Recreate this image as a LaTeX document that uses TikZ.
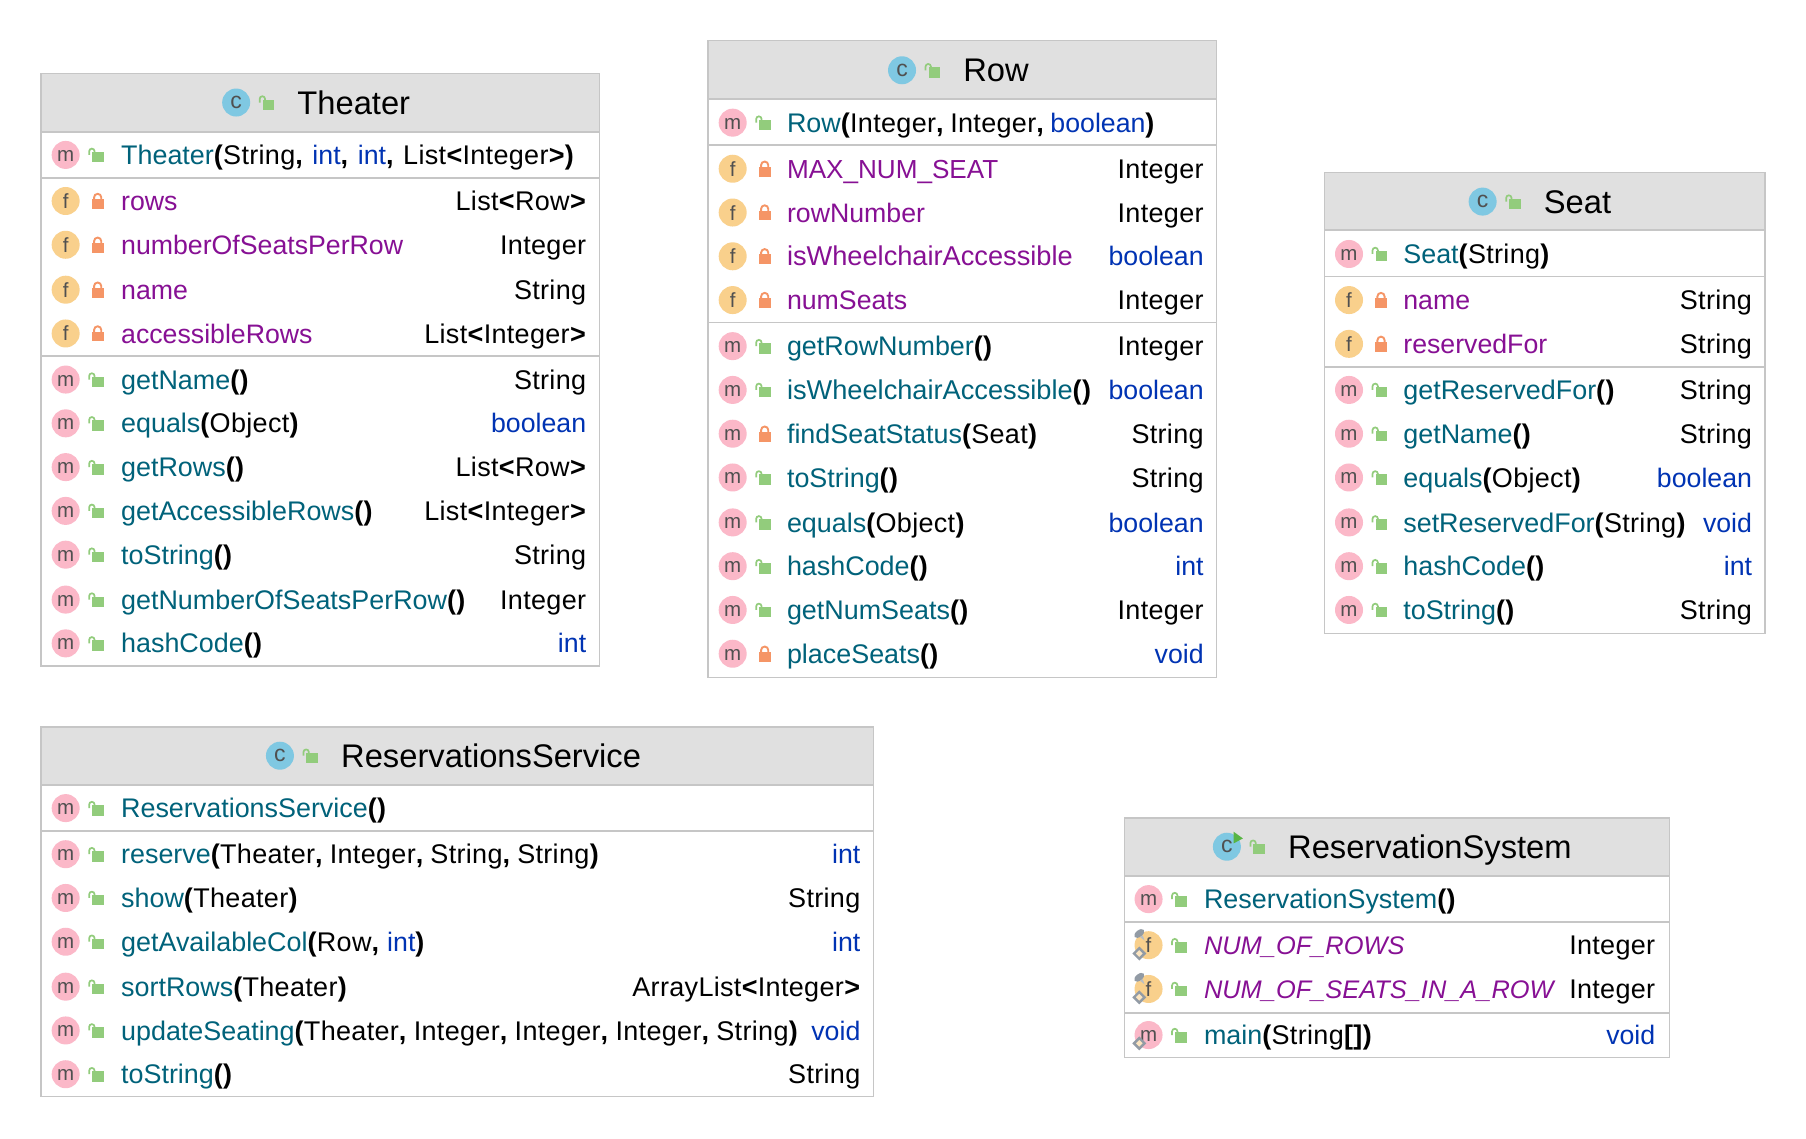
\documentclass[tikz,border=0pt]{standalone}
\usepackage{fontspec}
\setmainfont{Liberation Sans}
\newfontfamily\argfam[LetterSpace=1.2]{Liberation Sans}
\definecolor{hdr}{HTML}{E0E0E0}
\definecolor{edge}{HTML}{C6C6C6}
\definecolor{cm}{HTML}{FBB8C8}
\definecolor{cf}{HTML}{F9D08C}
\definecolor{cc}{HTML}{7FC8E2}
\definecolor{lgreen}{HTML}{92CC7C}
\definecolor{lorange}{HTML}{F59566}
\definecolor{tmeth}{HTML}{00627A}
\definecolor{tfield}{HTML}{871094}
\definecolor{tkw}{HTML}{0033B3}
\definecolor{glyph}{HTML}{505050}
\definecolor{deco}{HTML}{929BA5}
\definecolor{runtri}{HTML}{58B544}
\newcounter{nn}
\newcommand\namefont{\rmfamily\fontsize{26.9}{30}\selectfont}
\newcommand\memfont{\argfam\fontsize{27}{30}\selectfont}
\newcommand\titlefont{\fontsize{32.7}{36}\selectfont}
\newcommand\B[1]{\textbf{#1}}
\newcommand\Cm[1]{\B{,}\hspace{#1pt} }
\newcommand\K[1]{{\rmfamily\fontsize{26.7}{30}\selectfont\textcolor{tkw}{#1}}}
\newcommand\M[1]{{\namefont\textcolor{tmeth}{#1}}}
\newcommand\F[1]{{\rmfamily\fontsize{26.7}{30}\selectfont\textcolor{tfield}{#1}}}
\newcommand\FU[1]{{\rmfamily\fontsize{26.1}{30}\selectfont\textcolor{tfield}{#1}}}
\newcommand\FI[1]{{\rmfamily\fontsize{25.4}{30}\selectfont\textit{\textcolor{tfield}{#1}}}}
\newcommand\PO{\B{(}}
\newcommand\PC{\B{)}}
\newcommand\EP{\B{()}}
\tikzset{
  x=1.152pt,y=-1.152pt,
  iconbase/.style={circle,inner sep=0pt,minimum size=28pt,text=glyph,font=\fontsize{20.5}{22}\selectfont,text depth=0pt},
  iconm/.style={iconbase,fill=cm,text height=13pt},
  iconf/.style={iconbase,fill=cf,text height=15pt},
  iconc/.style={iconbase,fill=cc,text height=12pt,font=\fontsize{23}{24}\selectfont},
  nametext/.style={anchor=base west,inner sep=0pt,font=\memfont},
  typetext/.style={anchor=base east,inner sep=0pt,font=\memfont},
  titletext/.style={anchor=base west,inner sep=0pt,font=\titlefont,text=black},
  pics/openlock/.style={code={
    \fill[lgreen] (26.5pt,-7.5pt) rectangle (38pt,3pt);
    \draw[lgreen,line width=1.7pt] (23.5pt,0pt) -- (23.5pt,3.6pt) arc[start angle=180,end angle=0,radius=2.7pt] -- (28.9pt,2.5pt);
  }},
  pics/closedlock/.style={code={
    \fill[lorange] (26pt,-7.8pt) rectangle (38pt,1.8pt);
    \draw[lorange,line width=1.9pt] (28.4pt,1.5pt) -- (28.4pt,3.6pt) arc[start angle=180,end angle=0,radius=3.6pt] -- (35.6pt,1.5pt);
  }},
  pics/diamondmark/.style={code={
    \draw[deco,fill=white!45!cf,line width=2.4pt] (-14.6pt,-8.3pt) -- (-9.3pt,-3pt) -- (-4pt,-8.3pt) -- (-9.3pt,-13.6pt) -- cycle;
  }},
  pics/pinmark/.style={code={
    \fill[deco] (-9.3pt,11.7pt) ellipse[x radius=5.8pt,y radius=3.3pt,rotate=38];
    \fill[deco!65] (-8.5pt,8.2pt) -- (-5.8pt,9.8pt) -- (-4pt,4.7pt) -- cycle;
  }},
  pics/runmark/.style={code={
    \fill[runtri] (6.7pt,15pt) -- (16pt,8.3pt) -- (6.7pt,3.3pt) -- cycle;
  }},
}
\newcommand\umlbox[5]{
  \fill[white] (#1,#3) rectangle (#2,#5);
  \fill[hdr] (#1,#3) rectangle (#2,#4);
  \draw[edge,line width=1.8pt] (#1,#4) -- (#2,#4);
  \draw[edge,line width=1.4pt] (#1,#3) rectangle (#2,#5);
  \def\bxl{#1}\def\bxr{#2}
}
\newcommand\sep[1]{\draw[edge,line width=1.8pt] (\bxl,#1) -- (\bxr,#1);}
\newcommand\classhead[4]{%
  \stepcounter{nn}
  \node[iconc] (c\thenn) at (#1,#2) {c};
  \pic at (#1,#2) {openlock};
  \node[titletext] (t\thenn) at (#3,#2) [yshift=-11.5pt] {#4};
}
% \member{y}{m|f}{open|closed}{name}{type}
\newcommand\member[5]{%
  \stepcounter{nn}
  \node[icon#2] (i\thenn) at (\ix,#1) [yshift=0.6pt] {#2};
  \pic at (i\thenn.center) {#3lock};
  \node[nametext] (n\thenn) at (\tx,#1) [yshift=-9pt] {#4};
  \ifx\relax#5\relax\else
  \node[typetext] (r\thenn) at (\rx,#1) [yshift=-9pt] {#5};\fi
}
\begin{document}
\begin{tikzpicture}
\useasboundingbox (0,0) rectangle (1567.7,987.85);
\fill[white] (0,0) rectangle (1567.7,987.85);

% Theater
\umlbox{35.5}{520.5}{64}{114.5}{578}
\sep{154.5}\sep{309}
\classhead{205}{89}{258}{Theater}
\def\ix{57}\def\tx{105}\def\rx{509}
\member{135}{m}{open}{\M{Theater}\PO String\Cm{1.5}\K{int}\Cm{1.5}\K{int}\Cm{1.5}List\B{<}Integer\B{>}\PC}{}
\member{175}{f}{closed}{\F{rows}}{List\B{<}Row\B{>}}
\member{213}{f}{closed}{\F{numberOfSeatsPerRow}}{Integer}
\member{252}{f}{closed}{\F{name}}{String}
\member{290}{f}{closed}{\F{accessibleRows}}{List\B{<}Integer\B{>}}
\member{330}{m}{open}{\M{getName}\EP}{String}
\member{368}{m}{open}{\M{equals}\PO Object\PC}{\K{boolean}}
\member{406}{m}{open}{\M{getRows}\EP}{List\B{<}Row\B{>}}
\member{444}{m}{open}{\M{getAccessibleRows}\EP}{List\B{<}Integer\B{>}}
\member{482}{m}{open}{\M{toString}\EP}{String}
\member{521}{m}{open}{\M{getNumberOfSeatsPerRow}\EP}{Integer}
\member{559}{m}{open}{\M{hashCode}\EP}{\K{int}}

% Row
\umlbox{614.5}{1056}{35}{86}{588}
\sep{126}\sep{280}
\classhead{783}{61}{836}{Row}
\def\ix{636}\def\tx{683}\def\rx{1045}
\member{107}{m}{open}{\M{Row}\PO Integer\Cm{-1.5}Integer\Cm{-1.5}\K{boolean}\PC}{}
\member{147}{f}{closed}{\FU{MAX\_NUM\_SEAT}}{Integer}
\member{185}{f}{closed}{\F{rowNumber}}{Integer}
\member{223}{f}{closed}{{\rmfamily\fontsize{27.2}{30}\selectfont\textcolor{tfield}{isWheelchairAccessible}}}{\K{boolean}}
\member{261}{f}{closed}{\F{numSeats}}{Integer}
\member{301}{m}{open}{\M{getRowNumber}\EP}{Integer}
\member{339}{m}{open}{{\rmfamily\fontsize{27.2}{30}\selectfont\textcolor{tmeth}{isWheelchairAccessible}}\EP}{\K{boolean}}
\member{377}{m}{closed}{\M{findSeatStatus}\PO Seat\PC}{String}
\member{415}{m}{open}{\M{toString}\EP}{String}
\member{454}{m}{open}{\M{equals}\PO Object\PC}{\K{boolean}}
\member{492}{m}{open}{\M{hashCode}\EP}{\K{int}}
\member{530}{m}{open}{\M{getNumSeats}\EP}{Integer}
\member{568}{m}{closed}{\M{placeSeats}\EP}{\K{void}}

% Seat
\umlbox{1149.5}{1532}{150}{200}{550}
\sep{240}\sep{318.5}
\classhead{1287}{175}{1340}{Seat}
\def\ix{1171}\def\tx{1218}\def\rx{1521}
\member{221}{m}{open}{\M{Seat}\PO String\PC}{}
\member{261}{f}{closed}{\F{name}}{String}
\member{299}{f}{closed}{\F{reservedFor}}{String}
\member{339}{m}{open}{\M{getReservedFor}\EP}{String}
\member{377}{m}{open}{\M{getName}\EP}{String}
\member{415}{m}{open}{\M{equals}\PO Object\PC}{\K{boolean}}
\member{454}{m}{open}{\M{setReservedFor}\PO String\PC}{\K{void}}
\member{492}{m}{open}{\M{hashCode}\EP}{\K{int}}
\member{530}{m}{open}{\M{toString}\EP}{String}

% ReservationsService
\umlbox{35.5}{758}{631}{681.5}{952}
\sep{721}
\classhead{243}{656}{296}{ReservationsService}
\def\ix{57}\def\tx{105}\def\rx{747}
\member{702}{m}{open}{\M{ReservationsService}\EP}{}
\member{742}{m}{open}{\M{reserve}\PO Theater\Cm{-1}Integer\Cm{-1}String\Cm{-1}String\PC}{\K{int}}
\member{780}{m}{open}{\M{show}\PO Theater\PC}{String}
\member{818}{m}{open}{\M{getAvailableCol}\PO Row\B{,} \K{int}\PC}{\K{int}}
\member{857}{m}{open}{\M{sortRows}\PO Theater\PC}{ArrayList\B{<}Integer\B{>}}
\member{895}{m}{open}{\M{updateSeating}\PO Theater\Cm{-0.8}Integer\Cm{-0.8}Integer\Cm{-0.8}Integer\Cm{-0.8}String\PC}{\K{void}}
\member{933}{m}{open}{\M{toString}\EP}{String}

% ReservationSystem
\umlbox{976}{1449}{710}{760.5}{918}
\sep{800.5}\sep{879.5}
\classhead{1065}{735}{1118}{ReservationSystem}
\pic at (c\thenn.center) {runmark};
\def\ix{997}\def\tx{1045}\def\rx{1437}
\member{781}{m}{open}{\M{ReservationSystem}\EP}{}
\member{821}{f}{open}{\FI{NUM\_OF\_ROWS}}{Integer}
\pic at (i\thenn.center) {diamondmark}; \pic at (i\thenn.center) {pinmark};
\member{859}{f}{open}{\FI{NUM\_OF\_SEATS\_IN\_A\_ROW}}{Integer}
\pic at (i\thenn.center) {diamondmark}; \pic at (i\thenn.center) {pinmark};
\member{899}{m}{open}{\M{main}\PO String\B{[]}\PC}{\K{void}}
\pic at (i\thenn.center) {diamondmark};
\end{tikzpicture}
\end{document}
